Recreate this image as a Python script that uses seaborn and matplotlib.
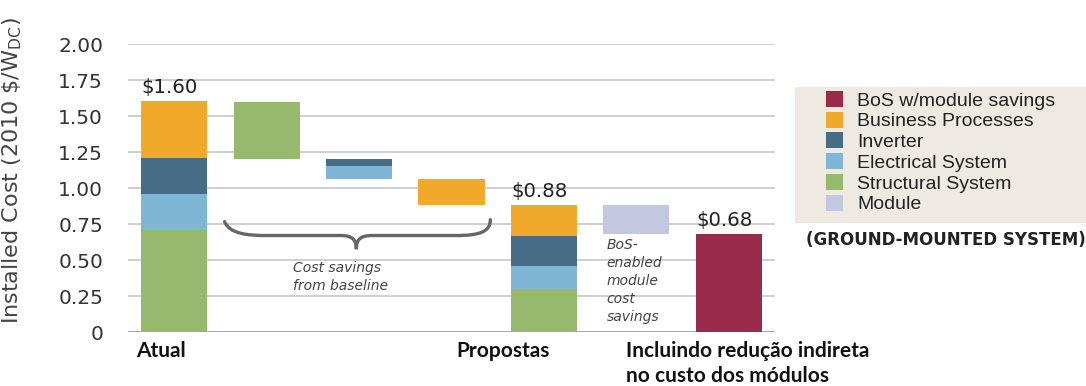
import numpy as np
import pandas as pd
import matplotlib
matplotlib.use('Agg')
import matplotlib.pyplot as plt
from matplotlib.patches import Patch, Rectangle, PathPatch
from matplotlib.path import Path
import seaborn as sns

# columns of the waterfall (left to right)
categories = ['Atual', 'Structural savings', 'Electrical savings', 'Business savings',
              'Propostas', 'Module savings', 'BoS w/module']
# segment heights per column ($/W), stacked bottom-up in this order
structural = [0.71, 0.40, 0.00, 0.00, 0.30, 0.00, 0.00]
electrical = [0.245, 0.00, 0.09, 0.00, 0.16, 0.00, 0.00]
inverter   = [0.25, 0.00, 0.045, 0.00, 0.205, 0.00, 0.00]
business   = [0.40, 0.00, 0.00, 0.18, 0.215, 0.00, 0.00]
module     = [0.00, 0.00, 0.00, 0.00, 0.00, 0.20, 0.00]
bos_module = [0.00, 0.00, 0.00, 0.00, 0.00, 0.00, 0.68]
# floating offset for the savings boxes
base = [0.00, 1.20, 1.065, 0.88, 0.00, 0.68, 0.00]
totals = {'Atual': '$1.60', 'Propostas': '$0.88', 'BoS w/module': '$0.68'}

seg_names = ['Structural System', 'Electrical System', 'Inverter', 'Business Processes',
             'Module', 'BoS w/module savings']
seg_vals = [structural, electrical, inverter, business, module, bos_module]
COL = {'BoS w/module savings': '#982A4C', 'Business Processes': '#F0A92A',
       'Inverter': '#466D85', 'Electrical System': '#7FB6D5',
       'Structural System': '#96B96D', 'Module': '#C4C7E0'}
legend_order = ['BoS w/module savings', 'Business Processes', 'Inverter',
                'Electrical System', 'Structural System', 'Module']

rows = []
for j, c in enumerate(categories):
    bot = base[j]
    for name, vals in zip(seg_names, seg_vals):
        if vals[j] > 0:
            rows.append(dict(category=c, pos=j, segment=name, value=vals[j], bottom=bot))
            bot += vals[j]
df = pd.DataFrame(rows)

sns.set_theme(style='white')
plt.rcParams['font.family'] = 'sans-serif'
plt.rcParams['font.sans-serif'] = ['DejaVu Sans']
plt.rcParams['mathtext.fontset'] = 'dejavusans'
DV = ['DejaVu Sans']
TXT = '#333333'

fig = plt.figure(figsize=(10.86, 3.86), dpi=100)
ax = fig.add_axes([128/1086, 54/386, 647/1086, 288/386])

for name in seg_names:
    sub = df[df['segment'] == name].sort_values('pos')
    sns.barplot(data=sub, x='category', y='value', order=categories, ax=ax,
                bottom=sub['bottom'].to_numpy(), color=COL[name], saturation=1,
                width=0.715, errorbar=None, linewidth=0, zorder=3)

ax.set_ylim(0, 2.0)
ax.set_xlim(-0.5, len(categories) - 0.5)
yt = np.arange(0, 2.01, 0.25)
ax.set_yticks(yt)
ax.set_yticklabels(['0'] + [f'{v:.2f}' for v in yt[1:]], fontsize=14.5, color=TXT,
                   family=DV)
ax.set_xticks([])
ax.set_xlabel('')
ax.set_ylabel(r'Installed Cost (2010 \$/W$_{\mathregular{DC}}$)', fontsize=16,
              color='#444444', family=DV)
ax.yaxis.set_label_coords(-0.16, 0.56)
ax.tick_params(axis='y', length=4, color='#bbbbbb', pad=14)
for sp in ax.spines.values():
    sp.set_visible(False)
for v in yt:
    ax.axhline(v, color='#a8a8a8' if v == 0 else '#cfcfcf', lw=1.4, zorder=1)

# totals above the bars
for j, c in enumerate(categories):
    if c in totals:
        top = df[df['category'] == c].eval('bottom + value').max()
        ax.text(j - 0.05, top + 0.03, totals[c], ha='center', va='bottom',
                fontsize=14.2, color='#222222', family=DV)

# curly brace under the savings boxes
brace = [(0.545, 0.766), (0.60, 0.68), (0.80, 0.67), (1.00, 0.67),
         (1.80, 0.67),
         (1.93, 0.67), (1.97, 0.64), (1.97, 0.575),
         (1.97, 0.64), (2.01, 0.67), (2.14, 0.67),
         (3.05, 0.67),
         (3.32, 0.67), (3.42, 0.70), (3.42, 0.78)]
codes = [Path.MOVETO, Path.CURVE4, Path.CURVE4, Path.CURVE4, Path.LINETO,
         Path.CURVE4, Path.CURVE4, Path.CURVE4, Path.CURVE4, Path.CURVE4, Path.CURVE4,
         Path.LINETO, Path.CURVE4, Path.CURVE4, Path.CURVE4]
ax.add_patch(PathPatch(Path(brace, codes), fill=False, edgecolor='#666666', lw=2.4,
                       capstyle='round', zorder=4))
ax.text(1.28, 0.38, 'Cost savings\nfrom baseline', ha='left', va='center', fontsize=10,
        style='italic', color='#444444', linespacing=1.35, family=DV)
ax.text(4.68, 0.655, 'BoS-\nenabled\nmodule\ncost\nsavings', ha='left', va='top',
        fontsize=10, style='italic', color='#444444', linespacing=1.37, family=DV)

# group labels under the axis
lab_kw = dict(fontsize=15, fontweight='bold', color='#111111', family=['Lato', 'DejaVu Sans'],
              clip_on=False, va='top')
ax.text(-0.41, -0.06, 'Atual', ha='left', **lab_kw)
ax.text(3.56, -0.06, 'Propostas', ha='center', **lab_kw)
ax.text(4.89, -0.06, 'Incluindo redução indireta\nno custo dos módulos', ha='left',
        linespacing=1.36, **lab_kw)

# legend panel
fig.patches.append(Rectangle((795/1086, (386-223)/386), 291/1086, 136/386,
                             transform=fig.transFigure, facecolor='#EEEAE2',
                             edgecolor='none', zorder=0))
handles = [Patch(facecolor=COL[n], edgecolor='none', label=n) for n in legend_order]
fig.legend(handles=handles, loc='upper left', bbox_to_anchor=(822/1086, (386-87)/386),
           frameon=False, prop={'family': 'Liberation Sans', 'size': 14},
           handlelength=0.9, handleheight=0.9, handletextpad=0.7, labelspacing=0.1,
           borderaxespad=0, borderpad=0.2, labelcolor='#222222')
fig.text(1.0, (386-240)/386, '(GROUND-MOUNTED SYSTEM)', ha='right', va='center',
         fontsize=12, fontweight='bold', color='#222222', family=DV)

fig.savefig('out.png', dpi=100)
